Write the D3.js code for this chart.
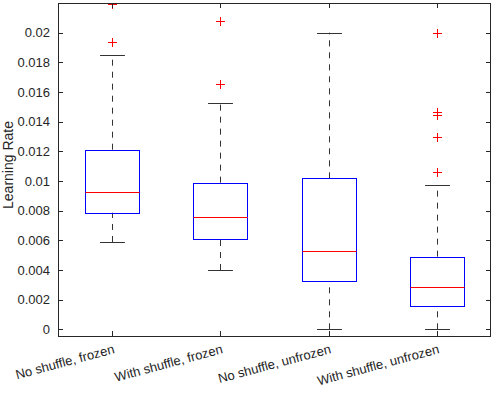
<!DOCTYPE html>
<html>
<head>
<meta charset="utf-8">
<script src="https://cdn.jsdelivr.net/npm/d3@7"></script>
<style>
  body { margin: 0; background: #fff; }
  svg text { font-family: "Liberation Sans", Arial, sans-serif; fill: #262626; }
</style>
</head>
<body>
<div id="chart"></div>
<script>
// data
const groups = ["No shuffle, frozen", "With shuffle, frozen", "No shuffle, unfrozen", "With shuffle, unfrozen"];
const lowWhisker = [0.00589, 0.0040, 0.0, 0.0];
const q1 = [0.00786, 0.00611, 0.00326, 0.00159];
const median = [0.00926, 0.00755, 0.00526, 0.00285];
const q3 = [0.01211, 0.00989, 0.01018, 0.00490];
const highWhisker = [0.0185, 0.01528, 0.0200, 0.00971];
const outliers = [
  [0.0194, 0.0219],
  [0.01652, 0.02081],
  [],
  [0.01059, 0.01297, 0.01445, 0.01465, 0.0200]
];
const yTicks = [0, 0.002, 0.004, 0.006, 0.008, 0.01, 0.012, 0.014, 0.016, 0.018, 0.02];

const W = 492, H = 394;
const margin = {left: 58, right: 1, top: 3, bottom: 58};

const svg = d3.select("#chart").append("svg")
    .attr("width", W)
    .attr("height", H);

const x = d3.scaleLinear().domain([0.5, 4.5]).range([margin.left, W - margin.right]);
const y = d3.scaleLinear().domain([-0.00045, 0.0220]).range([H - margin.bottom, margin.top]);

const axisColor = "#262626";
svg.append("clipPath").attr("id", "plotclip")
    .append("rect")
    .attr("x", margin.left).attr("y", margin.top)
    .attr("width", W - margin.left - margin.right)
    .attr("height", H - margin.top - margin.bottom);

const plot = svg.append("g").attr("clip-path", "url(#plotclip)");

const boxHalf = 0.25, capHalf = 0.115;

groups.forEach(function (g, i) {
    const cx = Math.round(x(i + 1)) + 0.5;
    const bw = x(boxHalf) - x(0);
    const cw = x(capHalf) - x(0);

    // whiskers, drawn from q3 up and from the lower cap up to q1
    [[q3[i], highWhisker[i]], [lowWhisker[i], q1[i]]].forEach(function (seg) {
        plot.append("line")
            .attr("x1", cx).attr("x2", cx)
            .attr("y1", y(seg[0])).attr("y2", y(seg[1]))
            .attr("stroke", "#333")
            .attr("stroke-width", 1)
            .attr("stroke-dasharray", "6,6");
    });
    [lowWhisker[i], highWhisker[i]].forEach(function (v) {
        plot.append("line")
            .attr("x1", cx - cw).attr("x2", cx + cw)
            .attr("y1", Math.round(y(v)) + 0.5).attr("y2", Math.round(y(v)) + 0.5)
            .attr("stroke", "#333")
            .attr("stroke-width", 1);
    });

    // box
    plot.append("rect")
        .attr("x", Math.round(cx - bw) + 0.5).attr("width", Math.round(2 * bw))
        .attr("y", Math.round(y(q3[i])) + 0.5).attr("height", Math.round(y(q1[i]) - y(q3[i])))
        .attr("fill", "none")
        .attr("stroke", "#0000ff")
        .attr("stroke-width", 1);

    // median
    plot.append("line")
        .attr("x1", cx - bw).attr("x2", cx + bw)
        .attr("y1", Math.round(y(median[i])) + 0.5).attr("y2", Math.round(y(median[i])) + 0.5)
        .attr("stroke", "#ff0000")
        .attr("stroke-width", 1);

    // outliers as '+'
    outliers[i].forEach(function (v) {
        const oy = Math.round(y(v)) + 0.5;
        plot.append("path")
            .attr("d", "M" + (cx - 4.5) + "," + oy + "H" + (cx + 4.5) + "M" + cx + "," + (oy - 4.5) + "V" + (oy + 4.5))
            .attr("stroke", "#ff0000")
            .attr("stroke-width", 1)
            .attr("fill", "none");
    });
});

// axes
const yAxis = d3.axisLeft(y).tickValues(yTicks).tickSize(0).tickPadding(8)
    .tickFormat(function (d) { return d === 0 ? "0" : String(+d.toFixed(3)); });
const gy = svg.append("g")
    .attr("transform", "translate(" + margin.left + ",0)")
    .call(yAxis);
gy.select(".domain").remove();
gy.selectAll("text").attr("font-size", 13).style("fill", axisColor);

// inward ticks on left and right
yTicks.forEach(function (t) {
    const ty = Math.round(y(t)) + 0.5;
    svg.append("line").attr("x1", margin.left).attr("x2", margin.left + 5)
        .attr("y1", ty).attr("y2", ty).attr("stroke", axisColor);
    svg.append("line").attr("x1", W - margin.right - 5).attr("x2", W - margin.right)
        .attr("y1", ty).attr("y2", ty).attr("stroke", axisColor);
});
groups.forEach(function (g, i) {
    const tx = Math.round(x(i + 1)) + 0.5;
    svg.append("line").attr("x1", tx).attr("x2", tx)
        .attr("y1", H - margin.bottom).attr("y2", H - margin.bottom - 5).attr("stroke", axisColor);
    svg.append("line").attr("x1", tx).attr("x2", tx)
        .attr("y1", margin.top).attr("y2", margin.top + 5).attr("stroke", axisColor);
    svg.append("text")
        .attr("text-anchor", "end")
        .attr("font-size", 13)
        .attr("transform", "translate(" + (x(i + 1) + 3) + "," + (H - margin.bottom + 17) + ") rotate(-15)")
        .text(g);
});

// frame
svg.append("rect")
    .attr("x", margin.left + 0.5).attr("y", margin.top + 0.5)
    .attr("width", W - margin.left - margin.right - 1)
    .attr("height", H - margin.top - margin.bottom)
    .attr("fill", "none")
    .attr("stroke", axisColor)
    .attr("stroke-width", 1);

svg.append("text")
    .attr("text-anchor", "middle")
    .attr("font-size", 14)
    .attr("transform", "translate(13,165) rotate(-90)")
    .text("Learning Rate");
</script>
</body>
</html>
